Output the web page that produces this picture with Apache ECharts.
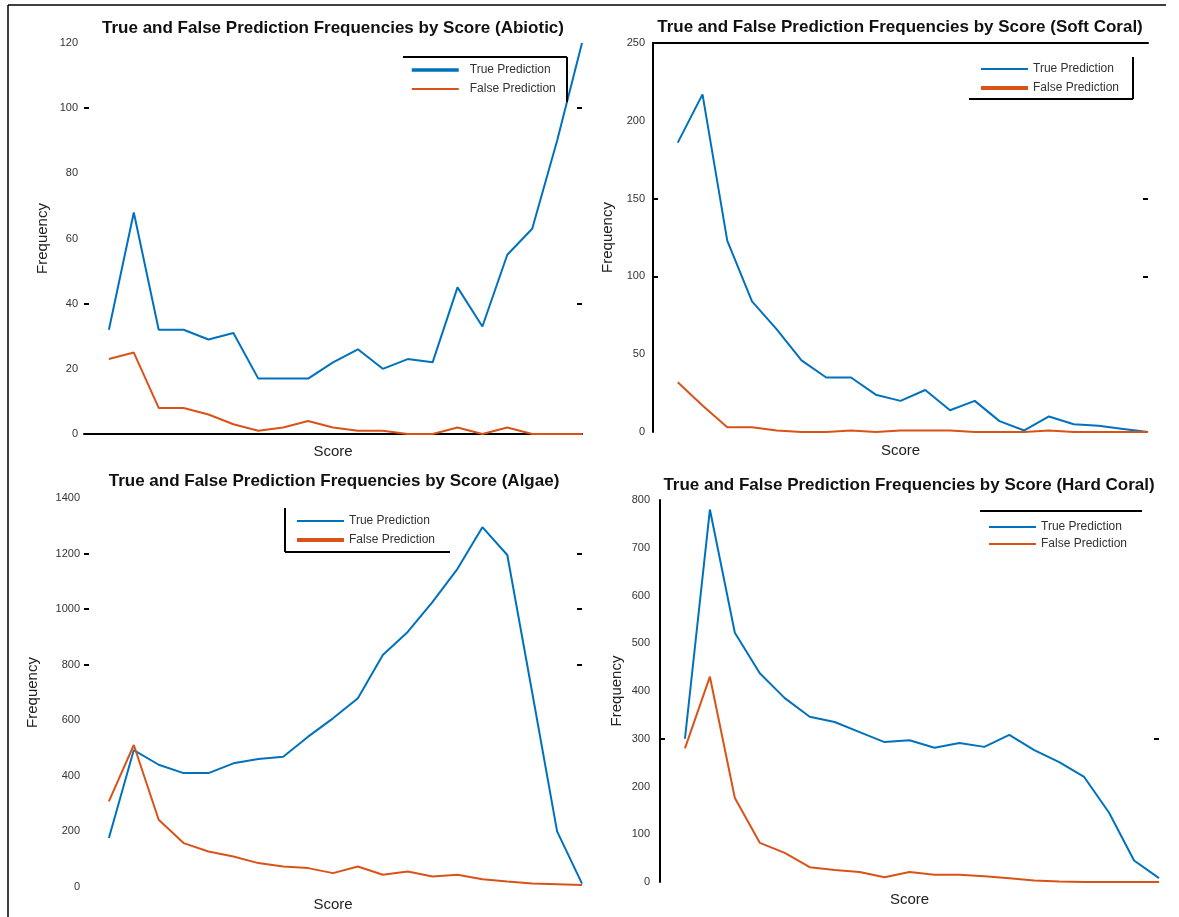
<!DOCTYPE html>
<html>
<head>
<meta charset="utf-8">
<title>True and False Prediction Frequencies by Score</title>
<script src="https://cdn.jsdelivr.net/npm/echarts@6/dist/echarts.min.js"></script>
<style>
  html, body { margin: 0; padding: 0; background: #ffffff; }
  #chart { width: 1179px; height: 917px; }
</style>
</head>
<body>
<div id="chart"></div>
<script>
// Score bins (x positions of each frequency count)
const scoreBins = [0.05, 0.10, 0.15, 0.20, 0.25, 0.30, 0.35, 0.40, 0.45, 0.50,
                   0.55, 0.60, 0.65, 0.70, 0.75, 0.80, 0.85, 0.90, 0.95, 1.00];

// Frequencies per class
const abioticTrue  = [32, 68, 32, 32, 29, 31, 17, 17, 17, 22, 26, 20, 23, 22, 45, 33, 55, 63, 90, 120];
const abioticFalse = [23, 25, 8, 8, 6, 3, 1, 2, 4, 2, 1, 1, 0, 0, 2, 0, 2, 0, 0, 0];

const softCoralTrue  = [186, 217, 123, 84, 66, 46, 35, 35, 24, 20, 27, 14, 20, 7, 1, 10, 5, 4, 2, 0];
const softCoralFalse = [32, 17, 3, 3, 1, 0, 0, 1, 0, 1, 1, 1, 0, 0, 0, 1, 0, 0, 0, 0];

const algaeTrue  = [176, 493, 440, 410, 410, 445, 461, 469, 541, 607, 679, 835, 918, 1026, 1145, 1295, 1195, 700, 200, 12];
const algaeFalse = [308, 511, 242, 158, 128, 110, 86, 74, 68, 50, 74, 44, 56, 38, 44, 28, 20, 13, 10, 7];

const hardCoralTrue  = [300, 780, 522, 437, 385, 346, 335, 314, 293, 297, 281, 291, 283, 308, 276, 251, 220, 145, 45, 8];
const hardCoralFalse = [280, 430, 176, 82, 61, 31, 25, 21, 10, 21, 15, 15, 12, 8, 3, 1, 0, 0, 0, 0];

// Y axis ranges and marked tick values
const abioticTicks   = { max: 120,  interval: 20,  marked: [40, 100] };
const softCoralTicks = { max: 250,  interval: 50,  marked: [100, 150] };
const algaeTicks     = { max: 1400, interval: 200, marked: [800, 1000, 1200] };
const hardCoralTicks = { max: 800,  interval: 100, marked: [300] };

const seriesNames = ['True Prediction', 'False Prediction'];

const FONT = '"Liberation Sans", Arial, Helvetica, sans-serif';
const BLUE = '#0072BD';
const ORANGE = '#D95319';
const BLACK = '#000000';

const panels = [
  {
    title: 'True and False Prediction Frequencies by Score (Abiotic)',
    trueVals: abioticTrue, falseVals: abioticFalse, ticks: abioticTicks,
    grid: { left: 84, top: 43, width: 498, height: 391 },
    titleX: 333, titleTop: 20,
    yNameGap: 34, xNameGap: 10, labelMargin: 6,
    xLine: true, yLine: false, topLine: false,
    legend: { left: 410, top: 63, gap: 5, textPad: 6, trueW: 3.5, falseW: 2 }
  },
  {
    title: 'True and False Prediction Frequencies by Score (Soft Coral)',
    trueVals: softCoralTrue, falseVals: softCoralFalse, ticks: softCoralTicks,
    grid: { left: 653, top: 43, width: 495, height: 389 },
    titleX: 900, titleTop: 19,
    yNameGap: 38, xNameGap: 11, labelMargin: 8,
    xLine: false, yLine: true, topLine: true,
    legend: { left: 979, top: 62, gap: 5, textPad: 0, trueW: 2, falseW: 4 }
  },
  {
    title: 'True and False Prediction Frequencies by Score (Algae)',
    trueVals: algaeTrue, falseVals: algaeFalse, ticks: algaeTicks,
    grid: { left: 84, top: 498, width: 498, height: 389 },
    titleX: 334, titleTop: 473,
    yNameGap: 44, xNameGap: 10, labelMargin: 4,
    xLine: false, yLine: false, topLine: false,
    legend: { left: 295, top: 514, gap: 5, textPad: 0, trueW: 2, falseW: 4 }
  },
  {
    title: 'True and False Prediction Frequencies by Score (Hard Coral)',
    trueVals: hardCoralTrue, falseVals: hardCoralFalse, ticks: hardCoralTicks,
    grid: { left: 660, top: 500, width: 499, height: 382 },
    titleX: 909, titleTop: 477,
    yNameGap: 36, xNameGap: 10, labelMargin: 10,
    xLine: false, yLine: true, topLine: false,
    legend: { left: 988, top: 520, gap: 3, textPad: 0, trueW: 2, falseW: 2 }
  }
];

const tickStyle = { color: BLACK, width: 2 };
const hiddenLine = { show: true, onZero: false, lineStyle: { color: 'rgba(0,0,0,0)', width: 0 } };
const titles = [], grids = [], xAxes = [], yAxes = [], series = [], legends = [];

panels.forEach(function (p, i) {
  grids.push(Object.assign({ containLabel: false }, p.grid));

  titles.push({
    text: p.title,
    left: p.titleX, top: p.titleTop, textAlign: 'center', padding: 0,
    textStyle: { fontFamily: FONT, fontSize: 17, fontWeight: 'bold', color: '#111111' }
  });

  // bottom x axis (Score)
  const xIndex = xAxes.length;
  xAxes.push({
    gridIndex: i, type: 'value', min: 0, max: 1,
    axisLine: p.xLine ? { show: true, onZero: false, lineStyle: { color: BLACK, width: 2 } } : { show: false },
    axisTick: { show: false }, axisLabel: { show: false }, splitLine: { show: false },
    name: 'Score', nameLocation: 'middle', nameGap: p.xNameGap,
    nameTextStyle: { fontFamily: FONT, fontSize: 15, color: '#222222' }
  });
  if (p.topLine) {
    xAxes.push({
      gridIndex: i, type: 'value', position: 'top', min: 0, max: 1,
      axisLine: { show: true, onZero: false, lineStyle: { color: BLACK, width: 2 } },
      axisTick: { show: false }, axisLabel: { show: false }, splitLine: { show: false }
    });
  }

  // left y axis (Frequency)
  const yIndex = yAxes.length;
  yAxes.push({
    gridIndex: i, type: 'value', position: 'left',
    min: 0, max: p.ticks.max, interval: p.ticks.interval,
    axisLine: p.yLine ? { show: true, onZero: false, lineStyle: { color: BLACK, width: 2 } } : hiddenLine,
    axisTick: { show: true, inside: true, length: 5, customValues: p.ticks.marked, lineStyle: tickStyle },
    axisLabel: { margin: p.labelMargin, fontFamily: FONT, fontSize: 11, color: '#333333',
                 formatter: function (v) { return String(v); } },
    splitLine: { show: false },
    name: 'Frequency', nameLocation: 'middle', nameGap: p.yNameGap,
    nameTextStyle: { fontFamily: FONT, fontSize: 15, color: '#222222' }
  });
  // right side tick marks
  yAxes.push({
    gridIndex: i, type: 'value', position: 'right',
    min: 0, max: p.ticks.max, interval: p.ticks.interval,
    axisLine: hiddenLine,
    axisTick: { show: true, inside: true, length: 5, customValues: p.ticks.marked, lineStyle: tickStyle },
    axisLabel: { show: true, formatter: function () { return ''; } },
    splitLine: { show: false }
  });

  series.push({
    name: seriesNames[0], type: 'line', xAxisIndex: xIndex, yAxisIndex: yIndex,
    symbol: 'none', showSymbol: false,
    lineStyle: { color: BLUE, width: 2 }, itemStyle: { color: BLUE },
    data: scoreBins.map(function (s, k) { return [s, p.trueVals[k]]; })
  });
  series.push({
    name: seriesNames[1], type: 'line', xAxisIndex: xIndex, yAxisIndex: yIndex,
    symbol: 'none', showSymbol: false,
    lineStyle: { color: ORANGE, width: 2 }, itemStyle: { color: ORANGE },
    data: scoreBins.map(function (s, k) { return [s, p.falseVals[k]]; })
  });

  legends.push({
    orient: 'vertical', left: p.legend.left, top: p.legend.top, padding: 0,
    itemWidth: 47, itemHeight: 14, itemGap: p.legend.gap, selectedMode: false,
    itemStyle: { opacity: 0 },
    data: [
      { name: seriesNames[0], lineStyle: { width: p.legend.trueW } },
      { name: seriesNames[1], lineStyle: { width: p.legend.falseW } }
    ],
    textStyle: { fontFamily: FONT, fontSize: 12, color: '#333333', lineHeight: 14,
                 padding: [0, 0, 0, p.legend.textPad] }
  });
});

// figure frame and legend box edges
function seg(x1, y1, x2, y2, w) {
  return { type: 'line', silent: true, z: 10,
           shape: { x1: x1, y1: y1, x2: x2, y2: y2 },
           style: { stroke: BLACK, lineWidth: w || 2 } };
}
const frame = [
  seg(8, 5, 8, 917, 1.5),
  seg(8, 5, 1166, 5, 1.5),
  // Abiotic legend
  seg(403, 57, 567, 57), seg(567, 57, 567, 102),
  // Soft Coral legend
  seg(1133, 57, 1133, 99), seg(969, 99, 1133, 99),
  // Algae legend
  seg(285, 508, 285, 552), seg(285, 552, 450, 552),
  // Hard Coral legend
  seg(980, 511, 1142, 511)
];

const chart = echarts.init(document.getElementById('chart'), null, { renderer: 'canvas' });
chart.setOption({
  backgroundColor: '#ffffff',
  animation: false,
  title: titles,
  grid: grids,
  xAxis: xAxes,
  yAxis: yAxes,
  legend: legends,
  series: series,
  graphic: frame
});
</script>
</body>
</html>
